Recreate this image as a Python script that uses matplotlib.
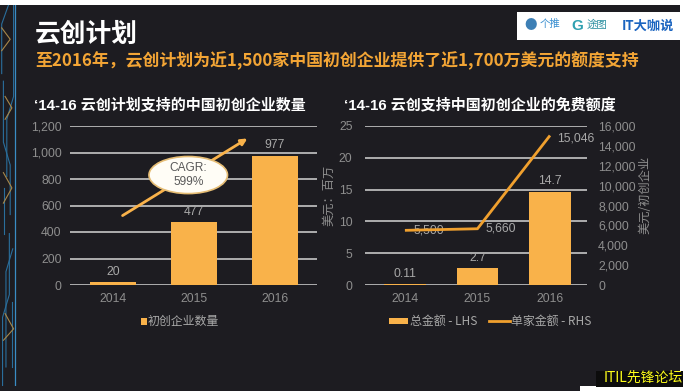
import matplotlib
matplotlib.use('Agg')
import matplotlib.pyplot as plt
from matplotlib.patches import Ellipse, Rectangle
from matplotlib.lines import Line2D
import matplotlib.ticker as mticker

# ---------------- data ----------------
years = ['2014', '2015', '2016']
startups = [20, 477, 977]
startup_labels = ['20', '477', '977']
total_amount = [0.11, 2.7, 14.7]          # 百万美元
total_labels = ['0.11', '2.7', '14.7']
per_startup = [5500, 5660, 15046]         # 美元/初创企业
per_labels = ['5,500', '5,660', '15,046']
left_yticks = [0, 200, 400, 600, 800, 1000, 1200]
lhs_ticks = [0, 5, 10, 15, 20, 25]
rhs_ticks = [0, 2000, 4000, 6000, 8000, 10000, 12000, 14000, 16000]
cagr_text = 'CAGR:\n599%'

plt.rcParams['font.family'] = ['Liberation Sans', 'Noto Sans CJK SC', 'DejaVu Sans']
CJK = ['Noto Sans CJK SC', 'DejaVu Sans']

BG = '#1d1c21'
BAR = '#f9b24a'
LINE = '#f0a02e'
GRID = '#d4d4d4'
TICK = '#8e8e8e'
VAL = '#a8a8a8'
FS = 8.8

W, H = 685, 391
fig = plt.figure(figsize=(W / 100, H / 100), dpi=100, facecolor='white')

def fx(px):
    return px / W

def fy(py):
    return 1 - py / H

# dark background panel
fig.patches.append(Rectangle((0, fy(386)), fx(680), fy(5) - fy(386),
                             transform=fig.transFigure, facecolor=BG,
                             edgecolor='none', zorder=-10))
fig.patches.append(Rectangle((0, 0), fx(580), fy(386),
                             transform=fig.transFigure, facecolor=BG,
                             edgecolor='none', zorder=-10))

# left decorative circuit strip
deco = fig.add_axes([fx(0), fy(386), fx(17), fy(5) - fy(386)])
deco.set_xlim(0, 1)
deco.set_ylim(0, 1)
deco.axis('off')
blue = '#2a6e9c'
gold = '#a8884a'
segs = [
    ([0.15, 0.15, 0.55, 0.55], [0.0, 0.18, 0.24, 0.40], blue),
    ([0.35, 0.35, 0.75], [0.05, 0.30, 0.36], blue),
    ([0.6, 0.6, 0.2, 0.2], [0.45, 0.58, 0.64, 0.80], blue),
    ([0.4, 0.4, 0.8, 0.8], [0.55, 0.70, 0.76, 1.0], blue),
    ([0.1, 0.1, 0.5], [0.82, 0.95, 1.0], blue),
    ([0.25, 0.25], [0.40, 0.52], blue),
    ([0.7, 0.7], [0.05, 0.22], blue),
    ([0.2, 0.7, 0.2], [0.48, 0.52, 0.56], gold),
    ([0.1, 0.6, 0.1], [0.88, 0.91, 0.94], gold),
    ([0.2, 0.8, 0.3], [0.12, 0.15, 0.19], gold),
    ([0.3, 0.7, 0.3], [0.70, 0.73, 0.76], gold),
]
for xs, ys, c in segs:
    deco.plot(xs, ys, color=c, lw=0.8)
deco.plot([0.9, 0.9], [0, 1], color='#3a8cc4', lw=0.9)

# titles
fig.text(fx(35), fy(34), '云创计划', color='white', fontsize=18.5,
         fontweight='bold', va='center', ha='left', family=CJK)
fig.text(fx(35), fy(61),
         '至2016年，云创计划为近1,500家中国初创企业提供了近1,700万美元的额度支持',
         color='#f3a535', fontsize=12.2, fontweight='bold', va='center',
         ha='left', family=CJK)
fig.text(fx(34), fy(105), '‘14-16 云创计划支持的中国初创企业数量', color='white',
         fontsize=10.8, fontweight='bold', va='center', ha='left')
fig.text(fx(344), fy(105), '‘14-16 云创支持中国初创企业的免费额度', color='white',
         fontsize=10.8, fontweight='bold', va='center', ha='left')

# logo box
fig.patches.append(Rectangle((fx(517), fy(40)), fx(680) - fx(517), fy(12) - fy(40),
                             transform=fig.transFigure, facecolor='white',
                             edgecolor='none', zorder=1))
fig.text(fx(524), fy(26), '●', color='#3d7fb5', fontsize=9, va='center', family=CJK)
fig.text(fx(540), fy(24), '个推', color='#3a8fd0', fontsize=7.5, va='center', family=CJK)
fig.text(fx(571), fy(26), 'G', color='#2fa0b0', fontsize=11, fontweight='bold', va='center')
fig.text(fx(587), fy(25), '途图', color='#2a8fa0', fontsize=7.5, va='center', family=CJK)
fig.text(fx(622), fy(26), 'IT大咖说', color='#1a64c0', fontsize=9.5, fontweight='bold',
         style='italic', va='center', family=CJK)

x = list(range(len(years)))

# ---------------- left chart ----------------
ax1 = fig.add_axes([fx(70), fy(285), fx(317) - fx(70), fy(126) - fy(285)])
ax1.set_facecolor('none')
ax1.bar(x, startups, width=0.56, color=BAR, zorder=3)
ax1.set_xlim(-0.53, 2.52)
ax1.set_ylim(0, 1200)
ax1.set_yticks(left_yticks)
ax1.yaxis.set_major_formatter(mticker.FuncFormatter(lambda v, p: f'{int(v):,}'))
ax1.set_xticks(x)
ax1.set_xticklabels(years)
ax1.grid(axis='y', color=GRID, lw=1.1, zorder=0)
ax1.set_axisbelow(True)
for s in ax1.spines.values():
    s.set_visible(False)
ax1.tick_params(length=0, colors=TICK, labelsize=FS)
ax1.tick_params(axis='y', pad=6)
ax1.tick_params(axis='x', pad=6)
for i, (v, lab) in enumerate(zip(startups, startup_labels)):
    ax1.annotate(lab, (i, v), xytext=(0, 3), textcoords='offset points',
                 ha='center', va='bottom', color=VAL, fontsize=FS)
# CAGR arrow and bubble
ax1.annotate('', xy=(1.69, 1117), xytext=(0.09, 513),
             arrowprops=dict(arrowstyle='-|>', color=BAR, lw=2,
                             mutation_scale=9), zorder=4)
ax1.add_patch(Ellipse((0.93, 830), 0.97, 280, facecolor='#fffdf6',
                      edgecolor='#e6bd74', lw=1.2, zorder=5))
ax1.text(0.93, 830, cagr_text, ha='center', va='center', color='#595959',
         fontsize=8.6, zorder=6, linespacing=1.2)
fig.text(fx(329), fy(195), '美元：百万', rotation=90, color=TICK, fontsize=8.8,
         ha='center', va='center', family=CJK)

# left legend
fig.patches.append(Rectangle((fx(141), fy(325)), fx(6), fy(0) - fy(7),
                             transform=fig.transFigure, facecolor=BAR,
                             edgecolor='none'))
fig.text(fx(148), fy(321), '初创企业数量', color=VAL, fontsize=8.6,
         va='center', ha='left', family=CJK)

# ---------------- right chart ----------------
ax2 = fig.add_axes([fx(365), fy(285), fx(587) - fx(365), fy(126) - fy(285)])
ax2.set_facecolor('none')
ax2.bar(x, total_amount, width=0.57, color=BAR, zorder=3)
ax2.set_xlim(-0.55, 2.51)
ax2.set_ylim(0, 25)
ax2.set_yticks(lhs_ticks)
ax2.set_xticks(x)
ax2.set_xticklabels(years)
ax2.grid(axis='y', color=GRID, lw=1.1, zorder=0)
ax2.set_axisbelow(True)
for s in ax2.spines.values():
    s.set_visible(False)
ax2.tick_params(length=0, colors=TICK, labelsize=FS)
ax2.tick_params(axis='y', pad=9)
ax2.tick_params(axis='x', pad=6)
for i, (v, lab) in enumerate(zip(total_amount, total_labels)):
    ax2.annotate(lab, (i, v), xytext=(0, 3), textcoords='offset points',
                 ha='center', va='bottom', color=VAL, fontsize=FS)

ax3 = ax2.twinx()
ax3.set_facecolor('none')
ax3.plot(x, per_startup, color=LINE, lw=2, zorder=4, solid_capstyle='butt')
ax3.set_ylim(0, 16000)
ax3.set_yticks(rhs_ticks)
ax3.yaxis.set_major_formatter(mticker.FuncFormatter(lambda v, p: f'{int(v):,}'))
for s in ax3.spines.values():
    s.set_visible(False)
ax3.tick_params(length=0, colors=TICK, labelsize=FS, pad=8)
offs = [(6, 0), (6, 0), (5, -2)]
for i, (v, lab) in enumerate(zip(per_startup, per_labels)):
    ax3.annotate(lab, (i, v), xytext=offs[i], textcoords='offset points',
                 ha='left', va='center', color=VAL, fontsize=FS)
fig.text(fx(645), fy(195), '美元/初创企业', rotation=90, color=TICK, fontsize=8.8,
         ha='center', va='center', family=CJK)

# right legend
fig.patches.append(Rectangle((fx(389), fy(324)), fx(19), fy(0) - fy(6),
                             transform=fig.transFigure, facecolor=BAR,
                             edgecolor='none'))
fig.text(fx(410), fy(321), '总金额 - LHS', color=VAL, fontsize=8.6,
         va='center', ha='left', family=CJK)
fig.lines.append(Line2D([fx(489), fx(510)], [fy(321), fy(321)],
                        transform=fig.transFigure, color=LINE, lw=2))
fig.text(fx(511), fy(321), '单家金额 - RHS', color=VAL, fontsize=8.6,
         va='center', ha='left', family=CJK)

# watermark
fig.patches.append(Rectangle((fx(596), fy(387)), fx(683) - fx(596), fy(371) - fy(387),
                             transform=fig.transFigure, facecolor='#0c0c0c',
                             edgecolor='none', zorder=1))
fig.text(fx(683), fy(378), 'ITIL先锋论坛', color='#ffff1a', fontsize=10,
         ha='right', va='center', family=CJK, zorder=2)

fig.savefig('out.png', dpi=100, facecolor=fig.get_facecolor())
